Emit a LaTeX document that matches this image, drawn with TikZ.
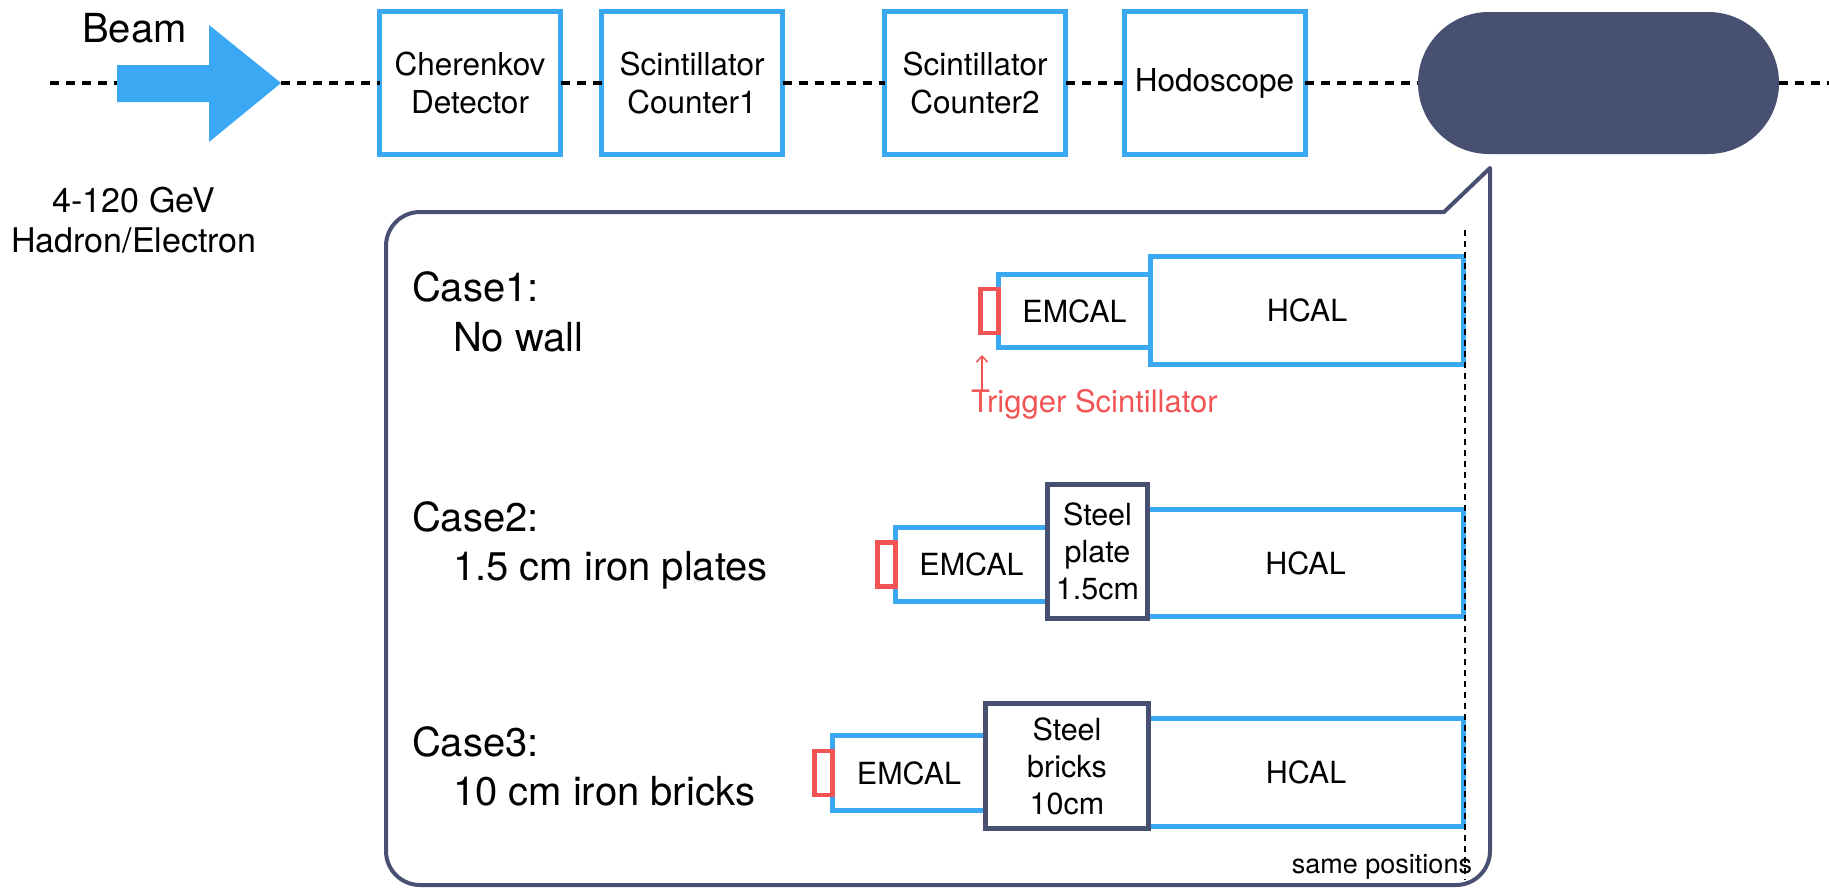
\documentclass[tikz,border=0pt]{standalone}
\usepackage{fontspec}
\setmainfont{TeX Gyre Heros}
\usetikzlibrary{arrows.meta}
\definecolor{cblue}{HTML}{3AA8F3}
\definecolor{cdark}{HTML}{475071}
\definecolor{cred}{HTML}{F25454}
\begin{document}
\begin{tikzpicture}[x=1pt,y=-1pt,
  every node/.style={inner sep=0pt, outer sep=0pt},
  topbox/.style={draw=cblue, line width=5pt, fill=white, minimum width=181pt, minimum height=143pt, align=center, font=\fontsize{31.5}{38}\selectfont},
  calbox/.style={draw=cblue, line width=5pt, fill=white, font=\fontsize{30.5}{37}\selectfont},
  steelbox/.style={draw=cdark, line width=5pt, fill=white, align=center, font=\fontsize{30.5}{37}\selectfont},
  trigbox/.style={draw=cred, line width=4.5pt, fill=white, minimum width=18pt, minimum height=44pt, anchor=east},
  beamline/.style={draw=black, dash pattern=on 9pt off 7pt, line width=3.5pt},
  vline/.style={draw=black, dash pattern=on 6pt off 5pt, line width=2.5pt},
  casetxt/.style={anchor=base west, font=\fontsize{40}{48}\selectfont},
  bubble/.style={draw=cdark, line width=4pt, line join=round}
]
\useasboundingbox (0,0) rectangle (1829,887);

% ---- top beam line ----
\coordinate (bstart) at (50,83);
\coordinate (bend) at (1829,83);
\coordinate (atail) at (117,83);
\coordinate (atip) at (281,83);

\node[anchor=base, font=\fontsize{40}{48}\selectfont] (beam) at (134.5,42) {Beam};
\fill[cblue] (117,65) -- (209,65) -- (209,25) -- (atip) -- (209,142) -- (209,102) -- (117,102) -- cycle;

\node[topbox] (cher) at (470,83) {Cherenkov\\Detector};
\node[topbox] (cnt1) at (692,83) {Scintillator\\Counter1};
\node[topbox] (cnt2) at (975,83) {Scintillator\\Counter2};
\node[topbox] (hodo) at (1214.5,83) {Hodoscope};
\node[fill=cdark, rounded corners=70.9pt, minimum width=361pt, minimum height=142pt] (pill) at (1598.5,83) {};

\draw[beamline] (bstart) -- (atail);
\draw[beamline] (atip) -- (cher);
\draw[beamline] (cher) -- (cnt1);
\draw[beamline] (cnt1) -- (cnt2);
\draw[beamline] (cnt2) -- (hodo);
\draw[beamline] (hodo) -- (pill);
\draw[beamline] (pill) -- (bend);

\node[anchor=base, font=\fontsize{34}{40}\selectfont] (energy) at (134,212) {4-120 GeV};
\node[anchor=base, font=\fontsize{34}{40}\selectfont] (particle) at (134,252) {Hadron/Electron};

% ---- speech bubble ----
\draw[bubble] (1444,212) -- (1490,168) -- (1490,851)
  arc[start angle=0, end angle=90, radius=34] -- (420,885)
  arc[start angle=90, end angle=180, radius=34] -- (386,246)
  arc[start angle=180, end angle=270, radius=34] -- cycle;

% ---- case texts ----
\node[casetxt] (c1a) at (412,301) {Case1:};
\node[casetxt] (c1b) at (453,351) {No wall};
\node[casetxt] (c2a) at (412,531) {Case2:};
\node[casetxt] (c2b) at (453,580) {1.5 cm iron plates};
\node[casetxt] (c3a) at (412,756) {Case3:};
\node[casetxt] (c3b) at (453,805) {10 cm iron bricks};

% ---- Case 1 ----
\node[calbox, minimum width=313pt, minimum height=108pt] (hcal1) at (1307,310.5) {HCAL};
\node[calbox, minimum width=152pt, minimum height=73pt] (emcal1) at (1074.5,311) {EMCAL};
\node[trigbox] (trig1) at (emcal1.west) {};
\coordinate (ta1) at (982,390);
\coordinate (ta2) at (982,355);
\draw[cred, line width=1.5pt, -{Straight Barb[length=6pt,width=11pt]}] (ta1) -- (ta2);
\node[anchor=base west, text=cred, font=\fontsize{31}{37}\selectfont] (triglbl) at (971,412) {Trigger Scintillator};

% ---- Case 2 ----
\node[calbox, minimum width=316pt, minimum height=107pt] (hcal2) at (1305.5,563) {HCAL};
\node[calbox, minimum width=152pt, minimum height=74pt] (emcal2) at (971.5,564.5) {EMCAL};
\node[steelbox, minimum width=100pt, minimum height=134pt] (steel2) at (1097.5,551.5) {Steel\\plate\\1.5cm};
\node[trigbox] (trig2) at (emcal2.west) {};

% ---- Case 3 ----
\node[calbox, minimum width=315pt, minimum height=108pt] (hcal3) at (1306,772.5) {HCAL};
\node[calbox, minimum width=153pt, minimum height=75pt] (emcal3) at (909,773) {EMCAL};
\node[steelbox, minimum width=163pt, minimum height=125pt] (steel3) at (1067,766) {Steel\\bricks\\10cm};
\node[trigbox] (trig3) at (emcal3.west) {};

% ---- same positions line ----
\coordinate (vtop) at (1465,230);
\coordinate (vbot) at (1465,880);
\draw[vline] (vtop) -- (vbot);
\node[anchor=base east, font=\fontsize{27}{31}\selectfont] (samepos) at (1472,873) {same positions};
\end{tikzpicture}
\end{document}
